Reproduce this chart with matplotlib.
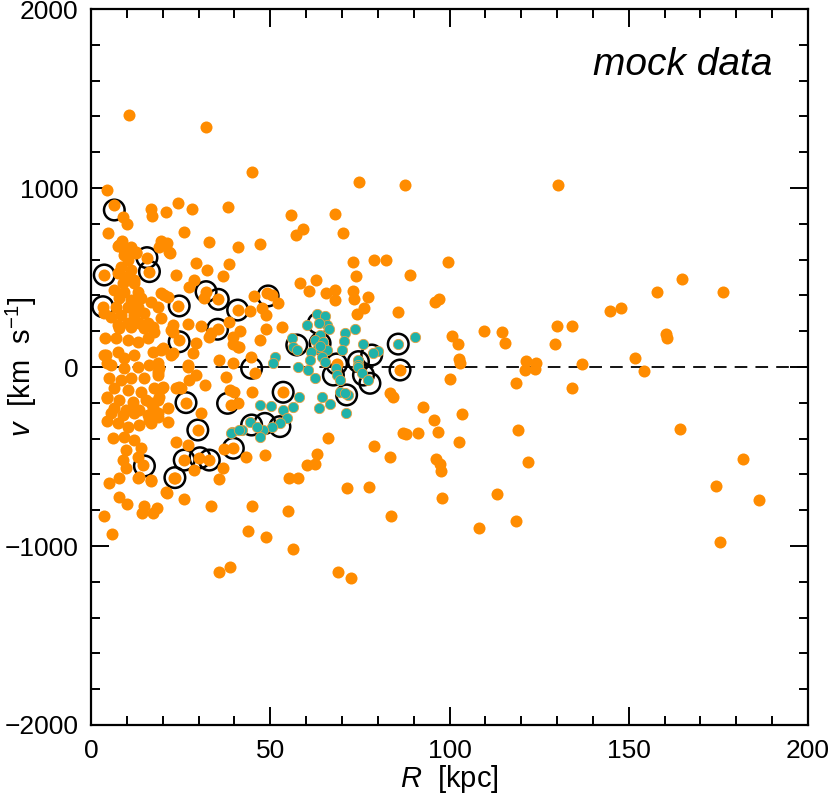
import numpy as np
import matplotlib
matplotlib.use("Agg")
import matplotlib.pyplot as plt
from matplotlib.ticker import MultipleLocator

plt.rcParams['font.family'] = ['Liberation Sans', 'DejaVu Sans']
plt.rcParams['mathtext.fontset'] = 'custom'
plt.rcParams['mathtext.rm'] = 'Liberation Sans'
plt.rcParams['mathtext.it'] = 'Liberation Sans:italic'
plt.rcParams['axes.unicode_minus'] = False

# mock data, (R [kpc], v [km/s])
orange_inner = np.array([
    (10.5, 1408), (4.6, 989), (6.5, 905), (8.8, 840), (10.0, 799), (16.7, 881), (16.9, 845),
    (21.0, 868), (24.2, 915), (4.8, 750), (8.6, 706), (7.4, 676), (9.3, 654), (10.2, 616),
    (12.6, 644), (19.5, 706), (21.2, 694), (22.0, 638), (15.6, 611), (16.3, 533), (3.7, 514),
    (23.6, 512), (7.9, 682), (11.2, 672), (12.6, 635), (9.3, 626), (10.2, 598), (19.0, 672),
    (21.8, 644), (8.4, 560), (11.2, 542), (7.4, 523), (9.8, 505), (8.8, 468), (12.1, 468),
    (12.1, 486), (6.5, 430), (9.3, 421), (13.0, 421), (7.9, 384), (11.2, 374), (13.9, 384),
    (10.2, 337), (7.0, 337), (13.0, 337), (8.4, 291), (5.6, 281), (12.1, 291), (14.9, 300),
    (10.2, 244), (7.4, 235), (13.5, 244), (15.8, 244), (19.5, 412), (21.4, 393), (16.7, 365),
    (18.6, 337), (3.3, 337), (3.7, 300), (24.4, 340), (19.5, 272), (22.8, 235), (17.2, 225),
    (20.4, 402), (7.9, 216), (11.2, 225), (14.9, 216), (17.7, 197), (7.0, 160), (10.2, 151),
    (13.0, 141), (15.8, 160), (4.2, 67), (7.4, 85), (9.3, 49), (12.1, 67), (17.2, 85),
    (20.0, 104), (22.8, 76), (5.6, 11), (9.3, -7), (13.0, 2), (16.3, 11), (19.0, -7),
    (5.1, -63), (8.4, -73), (11.2, -63), (14.9, -63), (18.6, -45), (6.5, -119), (10.2, -128),
    (13.9, -138), (17.7, -119), (20.0, -110), (4.6, -166), (7.9, -184), (11.6, -194),
    (15.3, -184), (18.6, -184), (6.5, -231), (9.8, -240), (13.5, -240), (17.2, -231),
    (21.4, -231), (22.9, 197), (22.3, 67), (24.6, -110), (3.7, 67), (4.6, 21), (19.5, 95),
    (18.6, 21), (5.6, -259), (8.8, -268), (12.1, -259), (15.8, -268), (18.6, -259),
    (7.4, -315), (10.2, -333), (13.5, -324), (16.7, -315), (6.1, -398), (9.3, -389),
    (12.1, -408), (9.8, -464), (13.9, -454), (8.8, -520), (9.8, -566), (13.0, -501),
    (14.6, -545), (13.0, -622), (16.7, -631), (7.9, -622), (5.1, -650), (23.7, -417),
    (16.3, -296), (18.6, -277), (21.4, -305), (23.2, -622), (20.9, -697), (18.6, -26),
    (23.7, -119), (19.8, -119), (19.1, -166), (16.7, -203), (13.5, -613), (7.7, -725),
    (10.0, -765), (14.7, -775), (14.1, -818), (17.2, -818), (18.4, -790), (3.7, -831),
    (5.8, -933), (4.6, -175), (24.6, 150), (3.8, 160), (4.5, -300),
])

orange_mid = np.array([
    (32.1, 1339), (44.9, 1088), (28.1, 881), (38.3, 896), (26.0, 756), (33.0, 700),
    (40.9, 669), (29.3, 579), (32.4, 542), (38.4, 574), (36.7, 508), (28.6, 486), (27.4, 449),
    (32.1, 421), (31.6, 384), (35.5, 378), (40.9, 318), (38.6, 253), (27.0, 240), (30.7, 229),
    (22.3, 207), (35.3, 211), (33.5, 188), (29.3, 136), (28.4, 76), (39.5, 127), (35.8, 39),
    (39.5, 21), (27.0, 11), (33.0, 169), (40.9, 113), (47.1, 687), (45.4, 395), (49.0, 415),
    (52.1, 359), (50.4, 402), (47.6, 328), (48.7, 292), (44.4, 311), (53.4, 222), (48.7, 211),
    (41.6, 203), (39.7, 169), (47.1, 151), (41.4, 113), (44.6, 58), (27.0, 2), (29.3, -45),
    (27.4, -73), (25.1, -119), (37.7, -54), (40.0, -138), (39.0, -215), (37.2, -460),
    (27.0, -436), (28.8, -575), (30.2, -507), (33.0, -520), (23.4, -618), (26.0, -520),
    (29.8, -352), (26.5, -199), (21.2, -706), (26.0, -740), (33.5, -775), (35.6, -624),
    (36.9, -562), (16.7, -637), (31.9, -101), (30.7, -259), (38.8, -128), (41.1, -203),
    (45.0, -141), (45.7, -34), (39.7, -454), (43.1, -501), (48.5, -490), (44.8, -777),
    (43.7, -915), (38.8, -1116), (35.7, -1145), (53.6, -141),
])

orange_outer = np.array([
    (74.7, 1036), (87.7, 1015), (55.7, 849), (68.1, 855), (57.1, 738), (59.2, 771),
    (70.2, 749), (73.1, 587), (78.9, 600), (82.4, 598), (73.9, 507), (88.9, 515), (58.4, 468),
    (62.8, 486), (60.8, 426), (65.6, 415), (68.1, 432), (68.1, 376), (73.1, 425), (73.4, 378),
    (77.3, 389), (76.2, 331), (74.1, 296), (85.7, 307), (99.6, 589), (95.9, 361), (97.1, 380),
    (86.2, -17), (68.5, 17), (66.0, -399), (63.1, -486), (60.2, -546), (62.5, -542),
    (55.3, -618), (57.8, -622), (71.3, -678), (77.5, -672), (79.0, -441), (83.4, -505),
    (83.4, -147), (84.3, -166), (54.9, -803), (48.9, -951), (56.4, -1019), (83.7, -832),
    (69.0, -1144), (72.5, -1177), (92.6, -222), (95.6, -296), (103.6, -263), (87.1, -367),
    (87.9, -374), (91.2, -367), (96.8, -365), (102.6, -417), (119.0, -350), (96.3, -516),
    (97.3, -542), (97.6, -581), (121.8, -529), (164.2, -348), (181.8, -514), (174.3, -667),
    (186.2, -745), (97.9, -734), (113.2, -710), (108.2, -901), (118.6, -859), (175.5, -980),
    (130.4, 1019), (100.6, 173), (102.4, 130), (102.7, 46), (103.0, 24), (100.1, -65),
    (109.5, 199), (114.6, 194), (115.6, 136), (130.0, 231), (134.1, 229), (129.3, 130),
    (121.2, 35), (124.1, 24), (121.1, -19), (123.8, -13), (118.6, -91), (136.9, 15),
    (134.1, -115), (144.8, 311), (147.9, 331), (157.9, 421), (164.9, 494), (176.4, 417),
    (160.3, 183), (160.6, 164), (151.7, 48), (154.3, -20),
])

teal = np.array([
    (63.1, 296), (65.3, 285), (65.7, 235), (60.2, 233), (63.5, 248), (70.8, 192), (73.6, 214),
    (70.6, 147), (70.1, 95), (63.9, 179), (62.5, 151), (64.8, 141), (63.4, 104), (65.7, 95),
    (64.3, 58), (65.3, 30), (56.0, 160), (56.4, 113), (57.4, 95), (61.5, 85), (61.1, 39),
    (51.3, 58), (50.9, 21), (75.8, 128), (80.1, 91), (78.7, 76), (85.7, 128), (90.5, 169),
    (74.6, 39), (74.6, 11), (66.5, 210), (64.0, 120),
    (57.8, 2), (60.6, -17), (62.5, -63), (68.3, -7), (68.5, -45), (69.5, -73), (74.6, 2),
    (75.5, -35), (77.3, -73), (69.5, -138), (71.8, -156), (70.8, -147), (64.3, -166),
    (66.7, -208), (63.7, -227), (71.1, -259), (58.0, -169), (56.4, -222), (53.6, -240),
    (54.6, -287), (52.7, -315), (50.4, -333), (48.1, -352), (47.1, -389), (44.4, -305),
    (46.2, -333), (42.0, -352), (39.2, -361), (47.1, -212), (50.1, -218), (39.1, -367),
    (41.4, -352),
])

# black open rings around selected objects
ringed = np.array([
    (6.5, 877), (3.7, 514), (15.6, 611), (16.3, 533), (3.3, 337), (32.1, 421), (35.5, 378),
    (24.6, 341), (40.9, 318), (49.4, 397), (35.3, 211), (24.6, 141), (26.5, -199),
    (38.1, -203), (29.8, -352), (14.9, -553), (26.0, -520), (30.4, -507), (33.0, -520),
    (23.4, -618), (39.7, -454), (44.8, -324), (48.5, -315), (52.7, -333), (53.6, -141),
    (57.4, 123), (63.9, 132), (63.4, 244), (74.6, 30), (78.3, 67), (85.7, 128), (68.5, 17),
    (67.6, -45), (76.0, -45), (77.8, -91), (71.3, -156), (86.2, -17), (44.8, -7),
])

orange_pts = np.vstack([orange_inner, orange_mid, orange_outer])

fig = plt.figure(figsize=(8.30, 7.98), dpi=100)
ax = fig.add_axes([91 / 830, 1 - 725 / 798, 717 / 830, 716 / 798])

ax.scatter(ringed[:, 0], ringed[:, 1], s=220, facecolors='none', edgecolors='black',
           linewidths=1.8, zorder=2)
ax.scatter(orange_pts[:, 0], orange_pts[:, 1], s=75, color='#ff8c00', linewidths=0, zorder=3)
ax.scatter(teal[:, 0], teal[:, 1], s=55, color='#20b2aa', edgecolors='#e8a040',
           linewidths=0.6, zorder=4)

ax.plot([0, 200], [0, 0], color='black', lw=1.3, dashes=(7, 4.5), zorder=1)

ax.set_xlim(0, 200)
ax.set_ylim(-2000, 2000)
ax.xaxis.set_major_locator(MultipleLocator(50))
ax.xaxis.set_minor_locator(MultipleLocator(10))
ax.yaxis.set_major_locator(MultipleLocator(1000))
ax.yaxis.set_minor_locator(MultipleLocator(200))
ax.tick_params(which='both', direction='in', top=True, right=True, width=1.4,
               labelsize=19)
ax.tick_params(which='major', length=13)
ax.tick_params(which='minor', length=6.5)
ax.tick_params(axis='y', pad=9)
ax.tick_params(axis='x', pad=10)
ax.set_yticks([-2000, -1000, 0, 1000, 2000])
ax.set_yticklabels(['\u22122000', '\u22121000', '0', '1000', '2000'])
for sp in ax.spines.values():
    sp.set_linewidth(1.6)

ax.set_xlabel('$\\it{R}$  [kpc]', fontsize=21, labelpad=0)
ax.set_ylabel('$\\it{v}$  [km  s$^{-1}$]', fontsize=21)
ax.yaxis.set_label_coords(-0.072, 0.5)

ax.text(0.951, 0.908, 'mock data', transform=ax.transAxes, ha='right', va='baseline',
        fontsize=28, style='italic')

fig.savefig('out.png', dpi=100)
